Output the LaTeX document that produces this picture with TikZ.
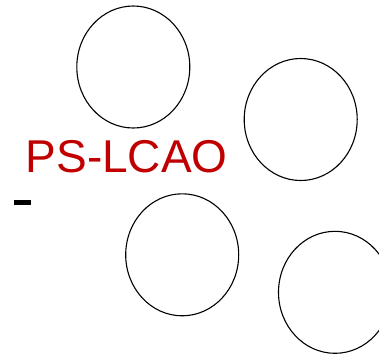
\documentclass[tikz,border=0pt]{standalone}
\usepackage{fontspec}
\setmainfont{Liberation Sans}
\definecolor{labelred}{HTML}{C00000}
\begin{document}
\begin{tikzpicture}[x=1pt,y=-1pt,
  orbital/.style={draw=black,line width=1.1pt},
  title/.style={inner sep=0pt,anchor=base west,text=labelred,
    font=\fontsize{46}{52}\selectfont}]
  \useasboundingbox (0,0) rectangle (379,357);
  \clip (0,0) rectangle (379,357);
  % four orbital outlines
  \draw[orbital] (133.3,67) ellipse [x radius=56.5,y radius=61];
  \draw[orbital] (300.7,119.5) ellipse [x radius=56.5,y radius=61];
  \draw[orbital] (182.2,254.8) ellipse [x radius=56.5,y radius=61];
  \draw[orbital] (335,292.3) ellipse [x radius=56.5,y radius=61];
  % label and short bar
  \node[title] (lbl) at (25.5,172.3) {PS-LCAO};
  \fill[black] (14,200) rectangle (31,204.7);
\end{tikzpicture}
\end{document}
